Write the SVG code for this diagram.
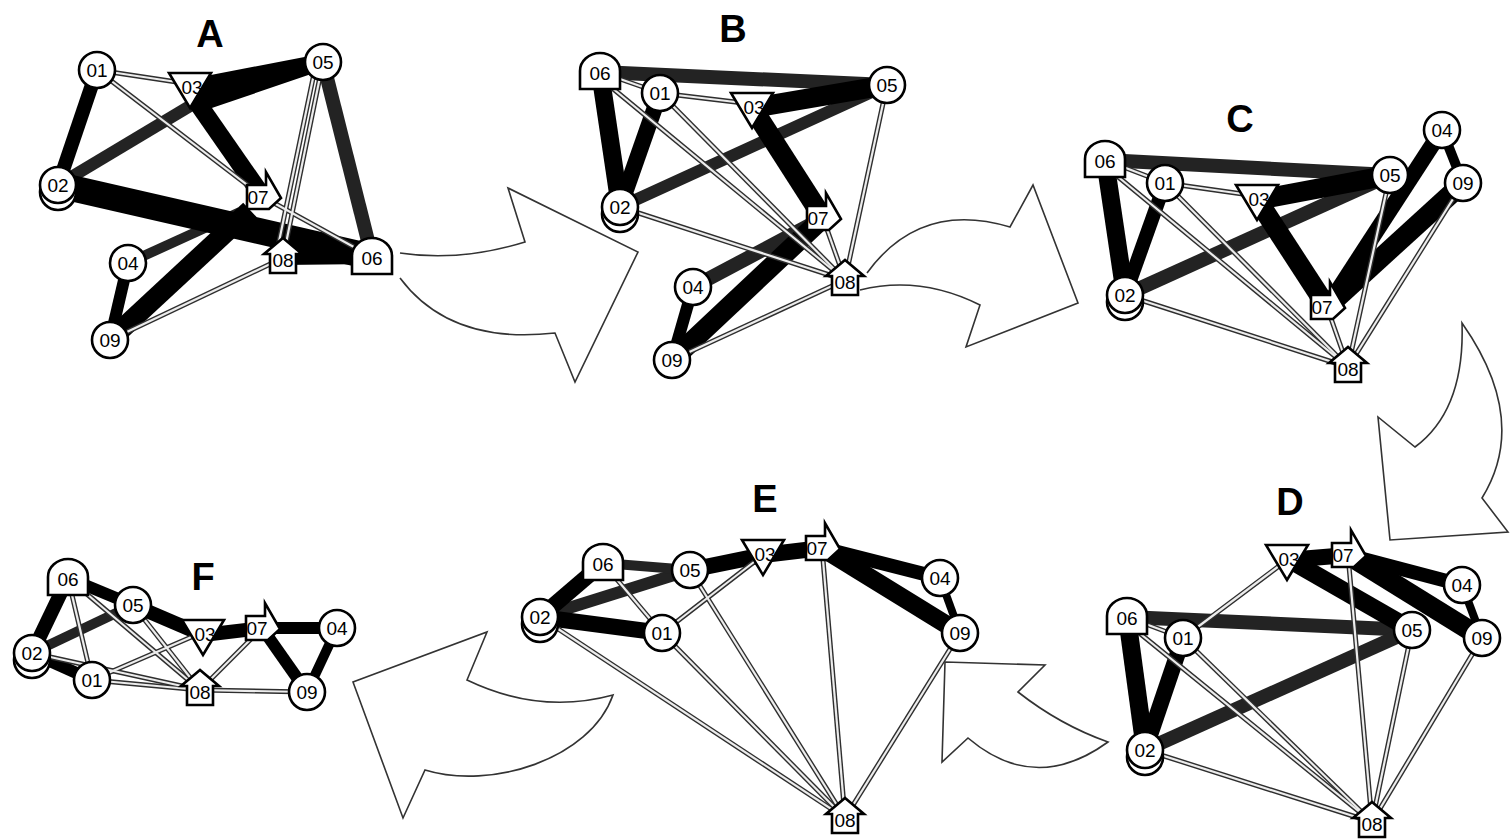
<svg xmlns="http://www.w3.org/2000/svg" xmlns:xlink="http://www.w3.org/1999/xlink" width="1510" height="839" viewBox="0 0 1510 839">
<style>
.nd{fill:#fff;stroke:#000;stroke-width:2.6}
.lb{font-family:"Liberation Sans",Arial,sans-serif;font-size:19px;text-anchor:middle;fill:#000}
.ttl{font-family:"Liberation Sans",Arial,sans-serif;font-weight:bold;font-size:38px;text-anchor:middle;fill:#000}
.t{stroke:#000;fill:none}
.s{stroke:#232323;fill:none}
.do{stroke:#2e2e2e;stroke-width:5;fill:none}
.di{stroke:#ececec;stroke-width:2.2;fill:none}
.big{fill:none;stroke:#333;stroke-width:1.6;stroke-linejoin:miter}
</style>
<defs>
<circle id="c" r="18" class="nd"/>
<g id="c2"><circle cy="7" r="18" class="nd"/><circle r="18" class="nd"/></g>
<polygon id="tri" points="-21,-15 21,-15 0,20" class="nd"/>
<polygon id="arw" points="-16,-12 3,-12 3,-25 18,1 6,12 -16,12" class="nd"/>
<polygon id="hse" points="-13,15 -13,-4 -19,-4 0,-20 19,-4 13,-4 13,15" class="nd"/>
<path id="tmb" d="M-20,17 V-1 A20,18 0 0 1 20,-1 V17 Z" class="nd"/>
<g id="dA">
<line x1="97" y1="70" x2="190" y2="84"/><line x1="97" y1="70" x2="263" y2="197"/><line x1="263" y1="197" x2="372" y2="257"/>
<line x1="323" y1="62" x2="283" y2="258"/><line x1="316" y1="64" x2="276" y2="256"/><line x1="110" y1="340" x2="283" y2="258"/>
</g>
<g id="dB">
<line x1="600" y1="72" x2="660" y2="93"/><line x1="600" y1="78" x2="845" y2="280"/><line x1="660" y1="93" x2="752" y2="104"/>
<line x1="660" y1="93" x2="845" y2="280"/><line x1="620" y1="207" x2="845" y2="280"/><line x1="887" y1="85" x2="845" y2="280"/>
<line x1="823" y1="218" x2="845" y2="280"/><line x1="672" y1="360" x2="845" y2="280"/>
</g>
<g id="dC">
<line x1="1105" y1="160" x2="1165" y2="183"/><line x1="1105" y1="166" x2="1348" y2="367"/><line x1="1165" y1="183" x2="1257" y2="196"/>
<line x1="1165" y1="183" x2="1348" y2="367"/><line x1="1125" y1="295" x2="1348" y2="367"/><line x1="1390" y1="175" x2="1348" y2="367"/>
<line x1="1463" y1="183" x2="1348" y2="367"/><line x1="1327" y1="307" x2="1348" y2="367"/>
</g>
<g id="dD">
<line x1="1127" y1="617" x2="1183" y2="638"/><line x1="1127" y1="623" x2="1372" y2="822"/><line x1="1183" y1="638" x2="1287" y2="560"/>
<line x1="1183" y1="638" x2="1372" y2="822"/><line x1="1145" y1="750" x2="1372" y2="822"/><line x1="1348" y1="555" x2="1372" y2="822"/>
<line x1="1412" y1="630" x2="1372" y2="822"/><line x1="1482" y1="638" x2="1372" y2="822"/>
</g>
<g id="dE">
<line x1="603" y1="563" x2="662" y2="633"/><line x1="662" y1="633" x2="763" y2="555"/><line x1="540" y1="617" x2="845" y2="818"/>
<line x1="662" y1="633" x2="845" y2="818"/><line x1="690" y1="570" x2="845" y2="818"/><line x1="822" y1="548" x2="845" y2="818"/>
<line x1="960" y1="633" x2="845" y2="818"/>
</g>
<g id="dF">
<line x1="68" y1="578" x2="92" y2="680"/><line x1="68" y1="578" x2="200" y2="690"/><line x1="133" y1="605" x2="200" y2="690"/>
<line x1="92" y1="680" x2="203" y2="632"/><line x1="92" y1="680" x2="200" y2="690"/><line x1="32" y1="653" x2="200" y2="690"/>
<line x1="200" y1="690" x2="262" y2="628"/><line x1="200" y1="690" x2="307" y2="692"/>
</g>
</defs>
<rect width="1510" height="839" fill="#fff"/>

<g id="transition-arrows">
<path class="big" d="M400,253 Q460,262 525,242 L508,188 L638,252 L575,382 L555,333 Q450,345 400,278"/>
<path class="big" d="M867,273 Q920,200 1010,227 L1033,185 L1078,303 L966,347 L980,305 Q920,275 860,290"/>
<path class="big" d="M1462,323 Q1465,410 1415,447 L1378,417 L1390,540 L1508,532 L1482,498 Q1530,420 1462,323 Z"/>
<path class="big" d="M945,662 L1045,665 L1018,692 Q1060,725 1108,742 Q1035,795 968,738 L942,762 Z"/>
<path class="big" d="M487,632 L467,680 Q540,715 613,695 C590,760 490,790 425,770 L403,818 L353,682 Z"/>
</g>

<g id="panelA">
<text class="ttl" x="210" y="47">A</text>
<g id="A-connectors">
<line class="t" x1="97" y1="70" x2="58" y2="185" stroke-width="14"/>
<line class="s" x1="58" y1="185" x2="200" y2="100" stroke-width="12"/>
<line class="s" x1="323" y1="62" x2="372" y2="257" stroke-width="14"/>
<line class="s" x1="128" y1="263" x2="240" y2="212" stroke-width="10"/>
<polygon points="185,80 200,112 323,70 320,54" fill="#000"/>
<line class="t" x1="192" y1="95" x2="263" y2="197" stroke-width="18"/>
<line class="t" x1="58" y1="185" x2="372" y2="257" stroke-width="26"/>
<line class="t" x1="110" y1="340" x2="250" y2="210" stroke-width="20"/>
<line class="t" x1="128" y1="263" x2="110" y2="340" stroke-width="12"/>
<line class="t" x1="283" y1="258" x2="372" y2="257" stroke-width="14"/>
<use href="#dA" class="do"/><use href="#dA" class="di"/>
</g>
<g id="A-01"><use href="#c" x="97" y="70"/><text class="lb" x="97" y="77">01</text></g>
<g id="A-05"><use href="#c" x="323" y="62"/><text class="lb" x="323" y="69">05</text></g>
<g id="A-03"><use href="#tri" x="190" y="88"/><text class="lb" x="192" y="94">03</text></g>
<g id="A-02"><use href="#c2" x="58" y="185"/><text class="lb" x="58" y="192">02</text></g>
<g id="A-07"><use href="#arw" x="263" y="197"/><text class="lb" x="258" y="204">07</text></g>
<g id="A-04"><use href="#c" x="128" y="263"/><text class="lb" x="128" y="270">04</text></g>
<g id="A-08"><use href="#hse" x="283" y="258"/><text class="lb" x="283" y="267">08</text></g>
<g id="A-06"><use href="#tmb" x="372" y="257"/><text class="lb" x="372" y="265">06</text></g>
<g id="A-09"><use href="#c" x="110" y="340"/><text class="lb" x="110" y="347">09</text></g>
</g>

<g id="panelB">
<text class="ttl" x="733" y="42">B</text>
<g id="B-connectors">
<line class="s" x1="600" y1="72" x2="887" y2="85" stroke-width="14"/>
<line class="s" x1="620" y1="207" x2="887" y2="85" stroke-width="12"/>
<line class="s" x1="693" y1="287" x2="823" y2="218" stroke-width="14"/>
<line class="t" x1="600" y1="72" x2="620" y2="207" stroke-width="18"/>
<line class="t" x1="660" y1="93" x2="620" y2="207" stroke-width="16"/>
<line class="t" x1="752" y1="108" x2="887" y2="85" stroke-width="20"/>
<line class="t" x1="755" y1="112" x2="823" y2="218" stroke-width="20"/>
<line class="t" x1="672" y1="360" x2="823" y2="218" stroke-width="20"/>
<line class="t" x1="693" y1="287" x2="672" y2="360" stroke-width="12"/>
<use href="#dB" class="do"/><use href="#dB" class="di"/>
</g>
<g id="B-06"><use href="#tmb" x="600" y="72"/><text class="lb" x="600" y="80">06</text></g>
<g id="B-01"><use href="#c" x="660" y="93"/><text class="lb" x="660" y="100">01</text></g>
<g id="B-05"><use href="#c" x="887" y="85"/><text class="lb" x="887" y="92">05</text></g>
<g id="B-03"><use href="#tri" x="752" y="108"/><text class="lb" x="754" y="114">03</text></g>
<g id="B-02"><use href="#c2" x="620" y="207"/><text class="lb" x="620" y="214">02</text></g>
<g id="B-07"><use href="#arw" x="823" y="218"/><text class="lb" x="818" y="225">07</text></g>
<g id="B-08"><use href="#hse" x="845" y="280"/><text class="lb" x="845" y="289">08</text></g>
<g id="B-04"><use href="#c" x="693" y="287"/><text class="lb" x="693" y="294">04</text></g>
<g id="B-09"><use href="#c" x="672" y="360"/><text class="lb" x="672" y="367">09</text></g>
</g>

<g id="panelC">
<text class="ttl" x="1240" y="132">C</text>
<g id="C-connectors">
<line class="s" x1="1105" y1="160" x2="1390" y2="175" stroke-width="14"/>
<line class="s" x1="1125" y1="295" x2="1390" y2="175" stroke-width="14"/>
<line class="t" x1="1105" y1="160" x2="1125" y2="295" stroke-width="18"/>
<line class="t" x1="1165" y1="183" x2="1125" y2="295" stroke-width="14"/>
<line class="t" x1="1257" y1="200" x2="1390" y2="175" stroke-width="20"/>
<line class="t" x1="1260" y1="204" x2="1327" y2="307" stroke-width="20"/>
<line class="t" x1="1327" y1="307" x2="1442" y2="130" stroke-width="16"/>
<line class="t" x1="1327" y1="307" x2="1463" y2="183" stroke-width="20"/>
<line class="t" x1="1442" y1="130" x2="1463" y2="183" stroke-width="10"/>
<use href="#dC" class="do"/><use href="#dC" class="di"/>
</g>
<g id="C-06"><use href="#tmb" x="1105" y="160"/><text class="lb" x="1105" y="168">06</text></g>
<g id="C-01"><use href="#c" x="1165" y="183"/><text class="lb" x="1165" y="190">01</text></g>
<g id="C-05"><use href="#c" x="1390" y="175"/><text class="lb" x="1390" y="182">05</text></g>
<g id="C-04"><use href="#c" x="1442" y="130"/><text class="lb" x="1442" y="137">04</text></g>
<g id="C-09"><use href="#c" x="1463" y="183"/><text class="lb" x="1463" y="190">09</text></g>
<g id="C-03"><use href="#tri" x="1257" y="200"/><text class="lb" x="1259" y="206">03</text></g>
<g id="C-02"><use href="#c2" x="1125" y="295"/><text class="lb" x="1125" y="302">02</text></g>
<g id="C-07"><use href="#arw" x="1327" y="307"/><text class="lb" x="1322" y="314">07</text></g>
<g id="C-08"><use href="#hse" x="1348" y="367"/><text class="lb" x="1348" y="376">08</text></g>
</g>

<g id="panelD">
<text class="ttl" x="1290" y="515">D</text>
<g id="D-connectors">
<line class="s" x1="1127" y1="617" x2="1412" y2="630" stroke-width="14"/>
<line class="s" x1="1145" y1="750" x2="1412" y2="630" stroke-width="14"/>
<line class="t" x1="1127" y1="617" x2="1145" y2="750" stroke-width="18"/>
<line class="t" x1="1183" y1="638" x2="1145" y2="750" stroke-width="16"/>
<line class="t" x1="1290" y1="560" x2="1412" y2="630" stroke-width="18"/>
<line class="t" x1="1287" y1="560" x2="1348" y2="555" stroke-width="16"/>
<line class="t" x1="1348" y1="555" x2="1482" y2="638" stroke-width="20"/>
<line class="t" x1="1348" y1="555" x2="1462" y2="585" stroke-width="14"/>
<line class="t" x1="1462" y1="585" x2="1482" y2="638" stroke-width="8"/>
<use href="#dD" class="do"/><use href="#dD" class="di"/>
</g>
<g id="D-03"><use href="#tri" x="1287" y="560"/><text class="lb" x="1289" y="566">03</text></g>
<g id="D-07"><use href="#arw" x="1348" y="555"/><text class="lb" x="1343" y="562">07</text></g>
<g id="D-04"><use href="#c" x="1462" y="585"/><text class="lb" x="1462" y="592">04</text></g>
<g id="D-06"><use href="#tmb" x="1127" y="617"/><text class="lb" x="1127" y="625">06</text></g>
<g id="D-01"><use href="#c" x="1183" y="638"/><text class="lb" x="1183" y="645">01</text></g>
<g id="D-05"><use href="#c" x="1412" y="630"/><text class="lb" x="1412" y="637">05</text></g>
<g id="D-09"><use href="#c" x="1482" y="638"/><text class="lb" x="1482" y="645">09</text></g>
<g id="D-02"><use href="#c2" x="1145" y="750"/><text class="lb" x="1145" y="757">02</text></g>
<g id="D-08"><use href="#hse" x="1372" y="822"/><text class="lb" x="1372" y="831">08</text></g>
</g>

<g id="panelE">
<text class="ttl" x="765" y="512">E</text>
<g id="E-connectors">
<line class="s" x1="540" y1="617" x2="690" y2="570" stroke-width="12"/>
<line class="s" x1="603" y1="563" x2="690" y2="570" stroke-width="10"/>
<line class="t" x1="540" y1="617" x2="603" y2="563" stroke-width="16"/>
<line class="t" x1="540" y1="617" x2="662" y2="633" stroke-width="16"/>
<line class="t" x1="690" y1="570" x2="763" y2="555" stroke-width="16"/>
<line class="t" x1="763" y1="555" x2="822" y2="548" stroke-width="16"/>
<line class="t" x1="822" y1="548" x2="940" y2="578" stroke-width="14"/>
<line class="t" x1="822" y1="548" x2="960" y2="633" stroke-width="18"/>
<line class="t" x1="940" y1="578" x2="960" y2="633" stroke-width="8"/>
<use href="#dE" class="do"/><use href="#dE" class="di"/>
</g>
<g id="E-06"><use href="#tmb" x="603" y="563"/><text class="lb" x="603" y="571">06</text></g>
<g id="E-05"><use href="#c" x="690" y="570"/><text class="lb" x="690" y="577">05</text></g>
<g id="E-03"><use href="#tri" x="763" y="555"/><text class="lb" x="765" y="561">03</text></g>
<g id="E-07"><use href="#arw" x="822" y="548"/><text class="lb" x="817" y="555">07</text></g>
<g id="E-04"><use href="#c" x="940" y="578"/><text class="lb" x="940" y="585">04</text></g>
<g id="E-09"><use href="#c" x="960" y="633"/><text class="lb" x="960" y="640">09</text></g>
<g id="E-02"><use href="#c2" x="540" y="617"/><text class="lb" x="540" y="624">02</text></g>
<g id="E-01"><use href="#c" x="662" y="633"/><text class="lb" x="662" y="640">01</text></g>
<g id="E-08"><use href="#hse" x="845" y="818"/><text class="lb" x="845" y="827">08</text></g>
</g>

<g id="panelF">
<text class="ttl" x="203" y="590">F</text>
<g id="F-connectors">
<line class="s" x1="32" y1="653" x2="133" y2="605" stroke-width="10"/>
<line class="t" x1="68" y1="578" x2="32" y2="653" stroke-width="14"/>
<line class="t" x1="68" y1="578" x2="133" y2="605" stroke-width="12"/>
<line class="t" x1="32" y1="653" x2="92" y2="680" stroke-width="12"/>
<line class="t" x1="133" y1="605" x2="203" y2="635" stroke-width="14"/>
<line class="t" x1="203" y1="635" x2="262" y2="628" stroke-width="14"/>
<line class="t" x1="262" y1="628" x2="337" y2="628" stroke-width="12"/>
<line class="t" x1="262" y1="628" x2="307" y2="692" stroke-width="12"/>
<line class="t" x1="337" y1="628" x2="307" y2="692" stroke-width="10"/>
<use href="#dF" class="do"/><use href="#dF" class="di"/>
</g>
<g id="F-06"><use href="#tmb" x="68" y="578"/><text class="lb" x="68" y="586">06</text></g>
<g id="F-05"><use href="#c" x="133" y="605"/><text class="lb" x="133" y="612">05</text></g>
<g id="F-03"><use href="#tri" x="203" y="635"/><text class="lb" x="205" y="641">03</text></g>
<g id="F-07"><use href="#arw" x="262" y="628"/><text class="lb" x="257" y="635">07</text></g>
<g id="F-04"><use href="#c" x="337" y="628"/><text class="lb" x="337" y="635">04</text></g>
<g id="F-02"><use href="#c2" x="32" y="653"/><text class="lb" x="32" y="660">02</text></g>
<g id="F-01"><use href="#c" x="92" y="680"/><text class="lb" x="92" y="687">01</text></g>
<g id="F-08"><use href="#hse" x="200" y="690"/><text class="lb" x="200" y="699">08</text></g>
<g id="F-09"><use href="#c" x="307" y="692"/><text class="lb" x="307" y="699">09</text></g>
</g>
</svg>
